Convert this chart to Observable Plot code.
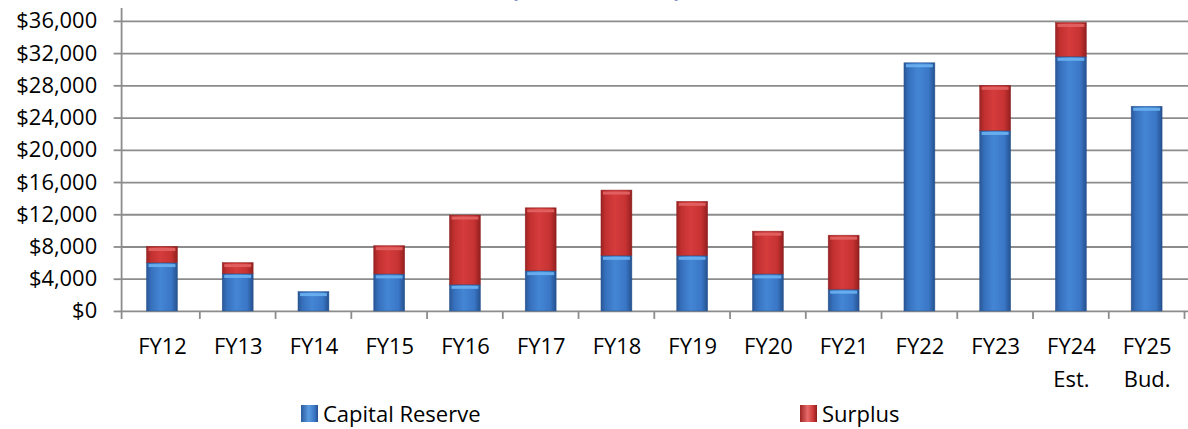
<!DOCTYPE html>
<html>
<head>
<meta charset="utf-8">
<script src="https://cdn.jsdelivr.net/npm/d3@7"></script>
<script src="https://cdn.jsdelivr.net/npm/@observablehq/plot@0.6"></script>
<style>
  html, body { margin: 0; padding: 0; background: #fff; overflow: hidden; }
  #wrap { position: relative; width: 1188px; height: 429px; overflow: hidden; font-family: "Open Sans", sans-serif; background: #fff; }
  #title { position: absolute; z-index: 2; left: 396px; width: 400px; top: -26.5px; line-height: 28px; font-size: 24px; font-weight: bold; color: #1c3c9c; text-align: center; white-space: nowrap; }
  #chart { position: absolute; left: 0; top: 0; z-index: 1; }
  .legend-item { position: absolute; z-index: 2; top: 398px; line-height: 30px; display: flex; align-items: center; font-size: 22px; color: #000; }
  .swatch { width: 17px; height: 17px; margin-right: 5px; }
  .sw-blue { background: linear-gradient(to right, #2a5a9e, #5a9be0 45%, #3a76c6 80%, #24508e); }
  .sw-red  { background: linear-gradient(to right, #9e2424, #e86a6a 45%, #c83434 80%, #8e1e1e); }
</style>
</head>
<body>
<div id="wrap">
  <div id="title">(in thousands)</div>
  <div id="chart"></div>
  <div class="legend-item" style="left:301px"><div class="swatch sw-blue"></div>Capital Reserve</div>
  <div class="legend-item" style="left:800px"><div class="swatch sw-red"></div>Surplus</div>
</div>
<script>
// Fiscal years on the x axis and the labels printed under them
const years = ["FY12", "FY13", "FY14", "FY15", "FY16", "FY17", "FY18", "FY19", "FY20", "FY21", "FY22", "FY23", "FY24", "FY25"];
const yearLabels = ["FY12", "FY13", "FY14", "FY15", "FY16", "FY17", "FY18", "FY19", "FY20", "FY21", "FY22", "FY23", "FY24\nEst.", "FY25\nBud."];

// Balances by fiscal year (dollars in thousands)
const capitalReserve = [6000, 4650, 2400, 4600, 3300, 5000, 6900, 6900, 4600, 2700, 30800, 22400, 31600, 25400];
const surplus        = [2000, 1350,    0, 3500, 8600, 7800, 8100, 6700, 5300, 6700,     0,  5600,  4200,     0];

const seriesNames = ["Capital Reserve", "Surplus"];
const yTicks = [0, 4000, 8000, 12000, 16000, 20000, 24000, 28000, 32000, 36000];

// Long-format rows: reserve first so it sits at the bottom of each stack
const rows = years.flatMap((year, i) => [
  {year, series: seriesNames[0], value: capitalReserve[i]},
  {year, series: seriesNames[1], value: surplus[i]}
]);

const gridColor = "#8c8c8c";
const money = d => "$" + d3.format(",")(d);

// Left axis line plus category separator ticks below the baseline
function axisFrame(index, scales, values, dims) {
  const {x, y} = scales;
  const g = d3.create("svg:g").attr("stroke", gridColor).attr("stroke-width", 1.8);
  const y0 = y(0);
  g.append("line")
    .attr("x1", dims.marginLeft).attr("x2", dims.marginLeft)
    .attr("y1", dims.marginTop).attr("y2", y0 + 8);
  for (const d of x.domain()) {
    const edge = x(d) + x.bandwidth() / 2 + x.step() / 2;
    g.append("line").attr("x1", edge).attr("x2", edge).attr("y1", y0).attr("y2", y0 + 8);
  }
  return g.node();
}

const chart = Plot.plot({
  width: 1192,
  height: 400,
  marginLeft: 122,
  marginRight: 0,
  marginTop: 8,
  marginBottom: 88,
  style: {fontFamily: "'Open Sans', sans-serif", fontSize: "22px", color: "#000", background: "transparent"},
  x: {domain: years, paddingInner: 0.59, paddingOuter: 0.295, label: null},
  y: {domain: [0, 37600], label: null},
  color: {domain: seriesNames, range: ["url(#gradReserve)", "url(#gradSurplus)"]},
  marks: [
    Plot.ruleY(yTicks, {stroke: gridColor, strokeWidth: 1.8}),
    Plot.axisY({ticks: yTicks, tickFormat: money, tickSize: 8, tickPadding: 17, fontSize: 22,
                stroke: gridColor, strokeWidth: 1.8, fill: "#000", label: null}),
    Plot.axisX({tickSize: 0, tickPadding: 19, fontSize: 22, lineHeight: 1.52, fill: "#000",
                tickFormat: d => yearLabels[years.indexOf(d)], label: null}),
    Plot.barY(rows, {x: "year", y: "value", fill: "series", stroke: d => d.series === "Surplus" ? "#8a1c1c" : "#22508c", strokeWidth: 0.6, strokeOpacity: 0.8}),
    // glossy highlight along the top edge of each segment
    Plot.tickY(rows, Plot.stackY2({
      filter: d => d.value > 0,
      x: "year", y: "value", z: "series",
      stroke: d => d.series === "Surplus" ? "#e26464" : "#6cb2f2",
      strokeWidth: 3, dy: 2.5, insetLeft: 2, insetRight: 2, strokeOpacity: 0.9
    })),
    axisFrame
  ]
});

// Horizontal shading for the cylinder-like bars
const defs = d3.select(chart).insert("defs", ":first-child");
function shade(id, stops) {
  const lg = defs.append("linearGradient").attr("id", id).attr("x1", 0).attr("x2", 1).attr("y1", 0).attr("y2", 0);
  stops.forEach(([o, c]) => lg.append("stop").attr("offset", o).attr("stop-color", c));
}
shade("gradReserve", [[0, "#2a5796"], [0.15, "#3670bd"], [0.45, "#4486d4"], [0.8, "#3a77c6"], [1, "#25518f"]]);
shade("gradSurplus", [[0, "#9c2323"], [0.15, "#c23030"], [0.45, "#d53c3c"], [0.8, "#c63232"], [1, "#921f1f"]]);

document.getElementById("chart").append(chart);
</script>
</body>
</html>
